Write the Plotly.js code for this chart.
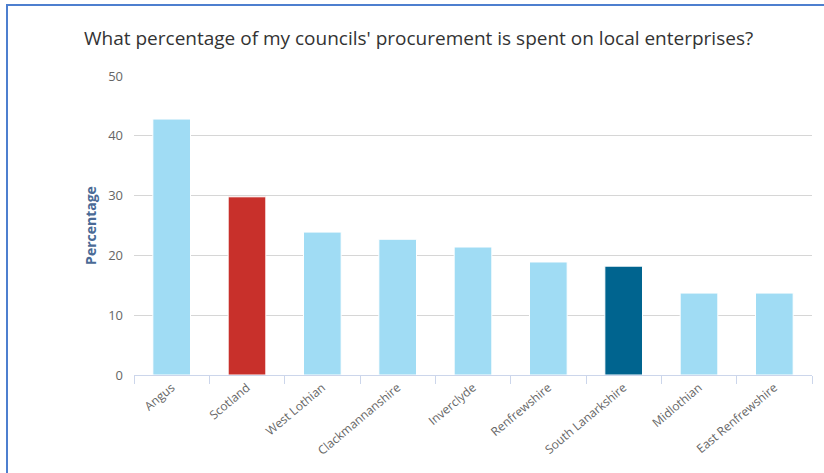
<!DOCTYPE html>
<html>
<head>
<meta charset="utf-8">
<script src="https://cdn.plot.ly/plotly-3.0.1.min.js"></script>
<style>
  html, body { margin: 0; padding: 0; background: #fff; }
  #wrap { position: relative; width: 824px; height: 473px; overflow: hidden; }
  #frame { position: absolute; left: 6px; top: 4px; width: 900px; height: 600px;
           border-top: 2px solid #4d7fcf; border-left: 2px solid #4d7fcf; box-sizing: border-box; pointer-events: none; }
  #chart { position: absolute; left: 0; top: 0; width: 824px; height: 473px; }
</style>
</head>
<body>
<div id="wrap">
  <div id="chart"></div>
  <div id="frame"></div>
</div>
<script>
const categories = ["Angus", "Scotland", "West Lothian", "Clackmannanshire", "Inverclyde",
                    "Renfrewshire", "South Lanarkshire", "Midlothian", "East Renfrewshire"];
const values = [42.8, 29.8, 23.9, 22.7, 21.4, 18.9, 18.2, 13.7, 13.7];
const barColors = ["#a0dcf4", "#c8302b", "#a0dcf4", "#a0dcf4", "#a0dcf4",
                   "#a0dcf4", "#00648f", "#a0dcf4", "#a0dcf4"];
const yTicks = [0, 10, 20, 30, 40, 50];

const trace = {
  type: "bar",
  x: categories,
  y: values,
  marker: { color: barColors, line: { color: "#ffffff", width: 1 } },
  width: 0.5,
  hoverinfo: "x+y"
};

const layout = {
  width: 824,
  height: 473,
  margin: { l: 134, r: 12, t: 76, b: 98 },
  paper_bgcolor: "#ffffff",
  plot_bgcolor: "#ffffff",
  font: { family: "Open Sans, sans-serif" },
  title: {
    text: "What percentage of my councils' procurement is spent on local enterprises?",
    font: { size: 19, color: "#333333", family: "Open Sans, sans-serif" },
    x: 0.508, xref: "container", xanchor: "center",
    y: 0.918, yref: "container", yanchor: "middle"
  },
  xaxis: {
    type: "category",
    tickson: "boundaries",
    ticks: "outside",
    ticklen: 8,
    tickcolor: "#ccd6eb",
    showline: true,
    linecolor: "#ccd6eb",
    linewidth: 1,
    showgrid: false,
    tickangle: -40,
    tickfont: { size: 12, color: "#666666", family: "Open Sans, sans-serif" },
    fixedrange: true
  },
  yaxis: {
    range: [0, 50],
    tickvals: yTicks,
    ticktext: yTicks.map(String),
    showgrid: true,
    gridcolor: "#d6d6d6",
    gridwidth: 1,
    zeroline: false,
    showline: false,
    ticks: "",
    ticklabelstandoff: 10,
    tickfont: { size: 13, color: "#666666", family: "Open Sans, sans-serif" },
    title: {
      text: "<b>Percentage</b>",
      font: { size: 14, color: "#4a6a96", family: "Open Sans, sans-serif" },
      standoff: 8
    },
    fixedrange: true
  },
  bargap: 0.5,
  showlegend: false
};

Plotly.newPlot("chart", [trace], layout, { displayModeBar: false, staticPlot: true });
</script>
</body>
</html>
